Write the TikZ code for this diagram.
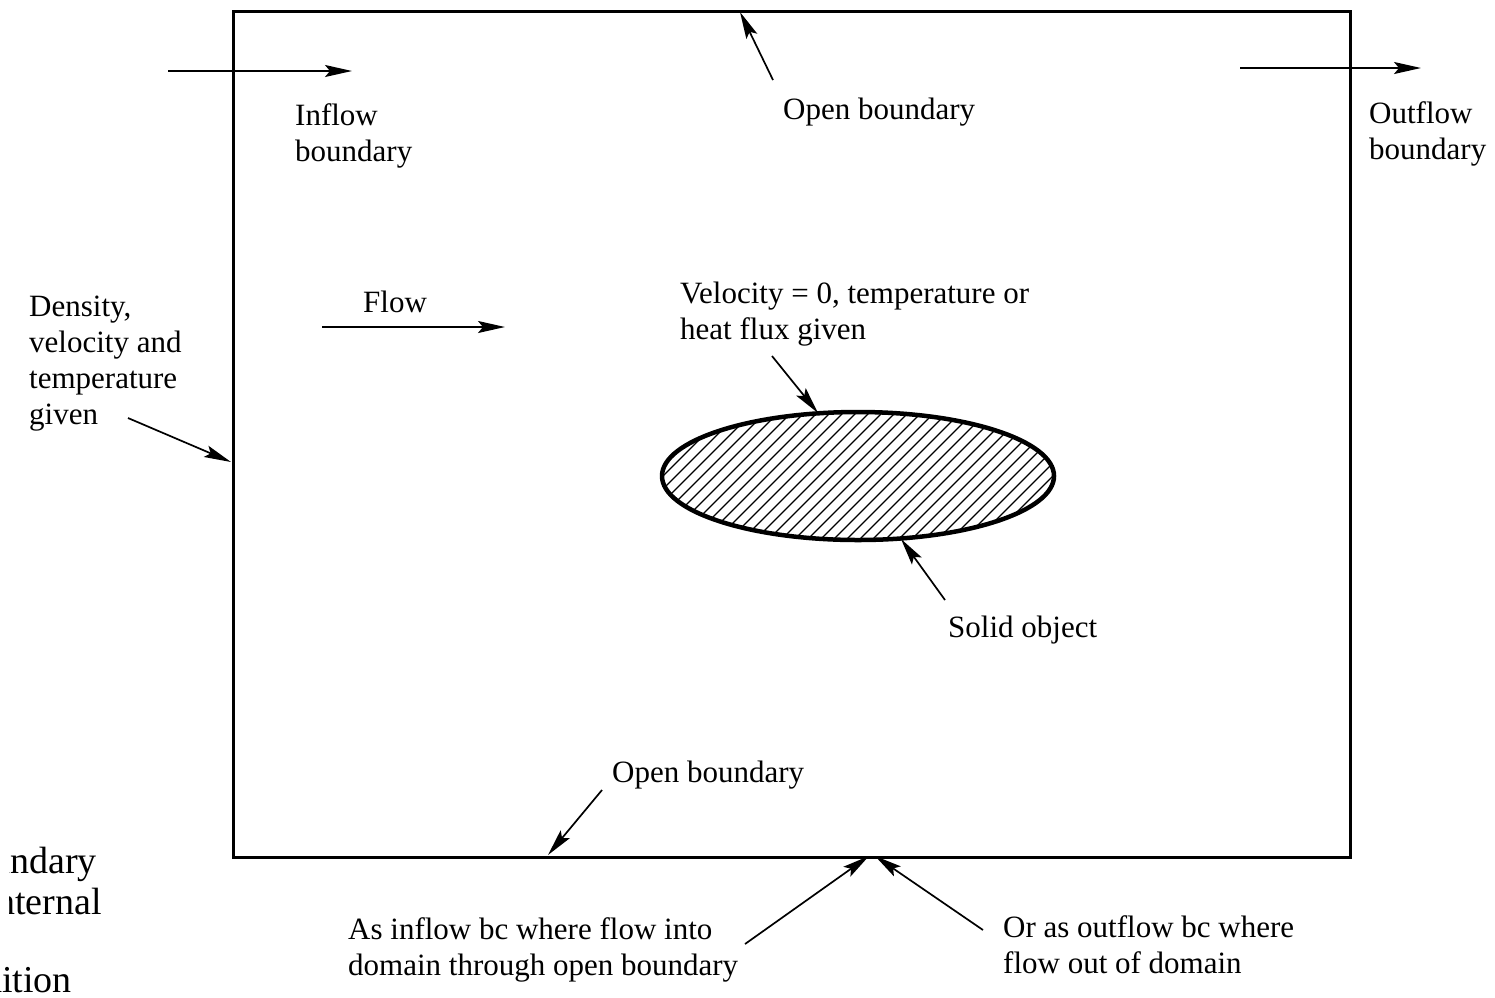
\documentclass[tikz,border=0pt]{standalone}
\usepackage{fontspec}
\setmainfont{Liberation Serif}
\usetikzlibrary{arrows.meta,shapes.geometric}
\begin{document}
\begin{tikzpicture}[x=1pt,y=-1pt,
  lbl/.style={inner sep=0pt, align=left, anchor=base west,
    font=\fontsize{31}{36}\selectfont},
  cut/.style={inner sep=0pt, anchor=base east,
    font=\fontsize{38}{39}\selectfont},
  ptr/.style={line width=1.7pt,
    -{Stealth[length=27pt,width=12pt,inset=5pt]}},
  wall/.style={draw, line width=3pt, inner sep=0pt},
  hatch/.style={line width=1.3pt}
]
\useasboundingbox (0,0) rectangle (1495,997);
\clip (0,0) rectangle (1495,997);

% computational domain
\node[wall, anchor=north west, minimum width=1117pt, minimum height=846pt]
  (domain) at (232,10) {};

% solid object with hatching
\node[ellipse, inner sep=0pt, minimum width=392pt, minimum height=128pt]
  (solid) at (858,476) {};
\begin{scope}
  \clip (solid.center) ellipse [x radius=196pt, y radius=64pt];
  \foreach \k in {-21,...,21}
    \draw[hatch] (858+\k*13-90, 476+90) -- ++(180,-180);
\end{scope}
\draw[line width=4.5pt] (solid.center) ellipse [x radius=196pt, y radius=64pt];

% labels (base anchor = baseline of the last line)
\node[lbl] (inflow)  at (295,161) {Inflow\\boundary};
\node[lbl] (opentop) at (783,119) {Open boundary};
\node[lbl] (outflow) at (1369,159) {Outflow\\boundary};
\node[lbl] (given)   at (29,424) {Density,\\velocity and\\temperature\\given};
\node[lbl] (flow)    at (363,312) {Flow};
\node[lbl] (wallbc)  at (680,339) {Velocity = 0, temperature or\\heat flux given};
\node[lbl] (solidl)  at (948,637) {Solid object};
\node[lbl] (openbot) at (612,782) {Open boundary};
\node[lbl] (asin)    at (348,975) {As inflow bc where flow into\\domain through open boundary};
\node[lbl] (asout)   at (1003,973) {Or as outflow bc where\\flow out of domain};

% text running in from the left margin
\begin{scope}
  \clip (9,830) rectangle (200,925);
  \node[cut] (cutA) at (97,873) {boundary};
  \node[cut] (cutB) at (102,914) {internal};
\end{scope}
\node[cut] (cutC) at (72,992) {condition};

% connector end points
\coordinate (inA)   at (168,71);
\coordinate (inB)   at (352,71);
\coordinate (outA)  at (1240,68);
\coordinate (outB)  at (1421,68);
\coordinate (flowA) at (322,327);
\coordinate (flowB) at (505,327);
\coordinate (topA)  at (773,80);
\coordinate (topB)  at (740,12);
\coordinate (leftA) at (128,418);
\coordinate (leftB) at (231,462);
\coordinate (velA)  at (772,356);
\coordinate (velB)  at (818,413);
\coordinate (solA)  at (945,600);
\coordinate (solB)  at (901,539);
\coordinate (botA)  at (602,790);
\coordinate (botB)  at (548,855);
\coordinate (meet)  at (872,856);
\coordinate (asinA) at (745,944);
\coordinate (asoutA) at (983,930);

\draw[ptr] (inA) -- (inB);
\draw[ptr] (outA) -- (outB);
\draw[ptr] (flowA) -- (flowB);
\draw[ptr] (topA) -- (topB);
\draw[ptr] (leftA) -- (leftB);
\draw[ptr] (velA) -- (velB);
\draw[ptr] (solA) -- (solB);
\draw[ptr] (botA) -- (botB);
\draw[ptr] (asinA) -- ([xshift=-3pt]meet);
\draw[ptr] (asoutA) -- ([xshift=3pt]meet);
\end{tikzpicture}
\end{document}
